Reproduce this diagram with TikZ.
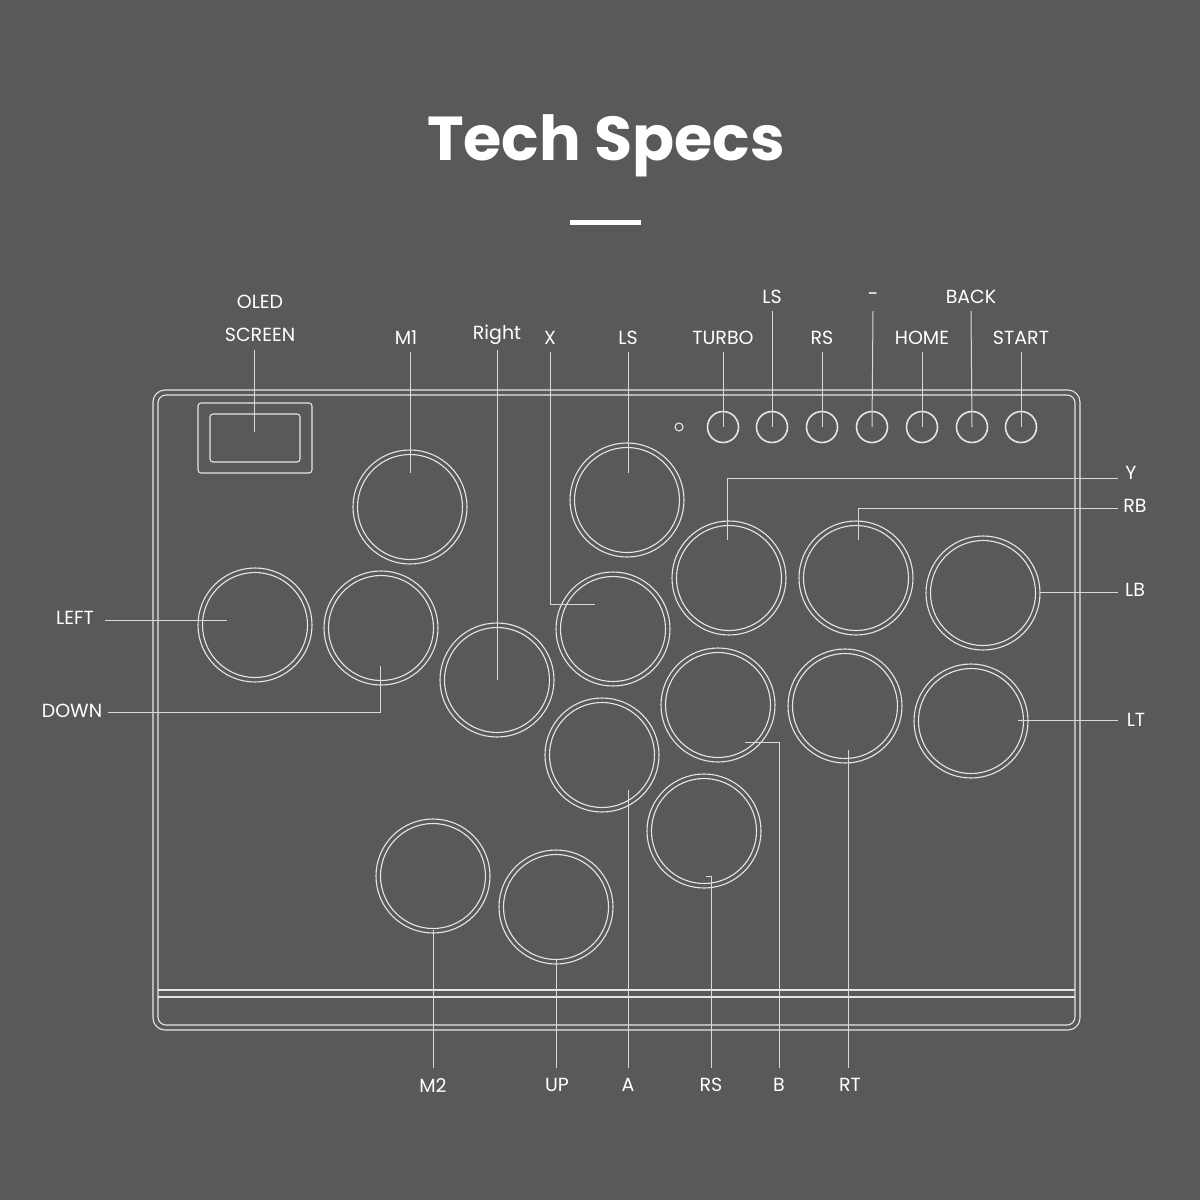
\documentclass[tikz,border=0pt]{standalone}
\usepackage{fontspec}
\setmainfont{Poppins}
\begin{document}
\begin{tikzpicture}[x=1pt,y=-1pt,
  ln/.style={draw=white!90!black,line width=1.1pt},
  lead/.style={draw=white!85!black,line width=1pt},
  lbl/.style={text=white,font=\fontsize{19}{22}\selectfont,inner sep=0pt}]
\fill[fill={rgb,255:red,88;green,89;blue,91}] (0,0) rectangle (1200,1200);
\useasboundingbox (0,0) rectangle (1200,1200);
\node[text=white,font=\bfseries\fontsize{62}{70}\selectfont] (title) at (606,146) {Tech Specs};
\draw[white,line width=5pt] (570,222) -- (641,222);
% body
\draw[ln,rounded corners=12] (153,390) rectangle (1080,1030);
\draw[ln,rounded corners=8] (158,395) rectangle (1075,1025);
\draw[ln] (158,990) -- (1075,990);
\draw[ln] (158,997) -- (1075,997);
\draw[ln,rounded corners=3] (198,403) rectangle (312,473);
\draw[ln,rounded corners=3] (210,414) rectangle (300,462);
% big buttons
\foreach \n/\x/\y in {m1/410/507,lst/627/500,left/255/625,down/381/628,right/497/680,x/613/629,y/729/578,rb/856/578,lb/983/593,b/718/705,rt/845/706,lt/971/721,a/602/755,rsb/704/831,m2/433/876,up/556/907}{
  \draw[ln] (\x,\y) circle (57);
  \draw[ln] (\x,\y) circle (52.5);
  \coordinate (\n) at (\x,\y);
}
\draw[ln] (679,427) circle (4);
\foreach \n/\x in {turbo/723,ls/772,rs/822,minus/872,home/922,back/972,start/1021}{
  \draw[ln,line width=1.6pt] (\x,427) circle (15.5);
  \coordinate (\n) at (\x,427);
}
% top labels
\node[lbl,align=center,font=\fontsize{19}{33}\selectfont] (oled) at (260,318) {OLED\\SCREEN};
\draw[lead] (254,350) -- (254,432);
\node[lbl] (tm1) at (406,338) {M1};
\draw[lead] (410,352) -- (410,473);
\node[lbl] (tright) at (497,335) {Right};
\draw[lead] (497,350) -- (497,680);
\node[lbl] (tx) at (550,338) {X};
\draw[lead] (550,352) -- (550,604) -- (595,604);
\node[lbl] (tls) at (628,338) {LS};
\draw[lead] (628,352) -- (628,473);
\foreach \n/\x/\y/\t in {turbo/723/338/TURBO,ls/772/297/LS,rs/822/338/RS,minus/873/297/-,home/922/338/HOME,back/971/297/BACK,start/1021/338/START}{
  \node[lbl] (t\n) at (\x,\y) {\t};
  \draw[lead] (\x,\y+14) -- (\n);
}
% right labels
\node[lbl] (ty) at (1131,473) {Y};
\draw[lead] (1118,478) -- (727,478) -- (727,540);
\node[lbl] (trb) at (1135,506) {RB};
\draw[lead] (1118,508) -- (858,508) -- (858,540);
\node[lbl] (tlb) at (1135,590) {LB};
\draw[lead] (1118,592) -- (1040,592);
\node[lbl] (tlt) at (1136,720) {LT};
\draw[lead] (1118,720) -- (1018,720);
% left labels
\node[lbl] (tleft) at (75,618) {LEFT};
\draw[lead] (105,620) -- (227,620);
\node[lbl] (tdown) at (72,711) {DOWN};
\draw[lead] (108,712) -- (380,712) -- (380,666);
% bottom labels
\foreach \t/\x in {M2/433,UP/557,A/628,RS/711,B/779,RT/850}{
  \node[lbl] at (\x,1085) {\t};
}
\draw[lead] (433,930) -- (433,1068);
\draw[lead] (556,960) -- (556,1068);
\draw[lead] (628,790) -- (628,1068);
\draw[lead] (706,876) -- (711,876) -- (711,1068);
\draw[lead] (745,742) -- (779,742) -- (779,1068);
\draw[lead] (848,750) -- (848,1068);
\end{tikzpicture}
\end{document}
